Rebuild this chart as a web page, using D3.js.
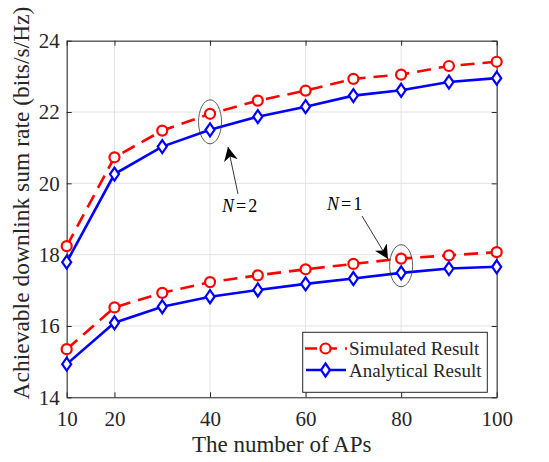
<!DOCTYPE html>
<html><head><meta charset="utf-8">
<script src="https://cdn.jsdelivr.net/npm/d3@7"></script>
<style>body{margin:0;background:#fff;}svg{display:block;}</style>
</head><body>
<svg id="c" width="549" height="462"></svg>
<script>
const aps = [10,20,30,40,50,60,70,80,90,100];
const simN2 = [18.24,20.73,21.48,21.95,22.32,22.6,22.93,23.05,23.29,23.41];
const anaN2 = [17.79,20.26,21.03,21.5,21.87,22.15,22.46,22.61,22.84,22.95];
const simN1 = [15.35,16.52,16.93,17.23,17.42,17.59,17.74,17.89,17.98,18.07];
const anaN1 = [14.93,16.09,16.54,16.82,17.01,17.18,17.33,17.49,17.61,17.66];
const xTicks = [10,20,40,60,80,100];
const yTicks = [14,16,18,20,22,24];
const legendLabels = ["Simulated Result","Analytical Result"];

const svg = d3.select("#c");
const L=66.7,R=496.7,T=40.7,B=397.3;
const x = d3.scaleLinear().domain([10,100]).range([L,R]);
const y = d3.scaleLinear().domain([14,24]).range([B,T]);
const font = "'Liberation Serif','Times New Roman',serif";

// grid
const g = svg.append("g");
g.selectAll(".gx").data(xTicks).enter().append("line")
 .attr("x1",d=>x(d)).attr("x2",d=>x(d)).attr("y1",T).attr("y2",B)
 .attr("stroke","#e3e3e3").attr("stroke-width",1);
g.selectAll(".gy").data(yTicks).enter().append("line")
 .attr("y1",d=>y(d)).attr("y2",d=>y(d)).attr("x1",L).attr("x2",R)
 .attr("stroke","#e3e3e3").attr("stroke-width",1);

// axes (ticks inward)
const ax = d3.axisBottom(x).tickValues(xTicks).tickSizeInner(-5).tickSizeOuter(0).tickPadding(14);
const axT = d3.axisTop(x).tickValues(xTicks).tickSizeInner(-5).tickSizeOuter(0).tickFormat("");
const ay = d3.axisLeft(y).tickValues(yTicks).tickSizeInner(-5).tickSizeOuter(0).tickPadding(7);
const ayR = d3.axisRight(y).tickValues(yTicks).tickSizeInner(-5).tickSizeOuter(0).tickFormat("");
function style(sel){
  sel.selectAll("path").attr("stroke","#262626").attr("stroke-width",1);
  sel.selectAll("line").attr("stroke","#262626");
  sel.selectAll("text").attr("font-family",font).attr("font-size",21).attr("fill","#262626");
}
svg.append("g").attr("transform",`translate(0,${B})`).call(ax).call(style);
svg.append("g").attr("transform",`translate(0,${T})`).call(axT).call(style);
svg.append("g").attr("transform",`translate(${L},0)`).call(ay).call(style);
svg.append("g").attr("transform",`translate(${R},0)`).call(ayR).call(style);

// axis titles
svg.append("text").attr("x",(L+R)/2).attr("y",452).attr("text-anchor","middle")
 .attr("font-family",font).attr("font-size",23).attr("fill","#262626").text("The number of APs");
svg.append("text").attr("transform",`translate(29,${203}) rotate(-90)`).attr("text-anchor","middle")
 .attr("font-family",font).attr("font-size",23.5).attr("fill","#262626").text("Achievable downlink sum rate (bits/s/Hz)");

const line = d3.line().x((d,i)=>x(aps[i])).y(d=>y(d));
const diamond = (cx,cy)=>`M${cx},${cy-6.5}L${cx+4.5},${cy}L${cx},${cy+6.5}L${cx-4.5},${cy}Z`;

function drawSim(vals){
  svg.append("path").datum(vals).attr("d",line).attr("fill","none").attr("stroke","#ff0000")
   .attr("stroke-width",2.6).attr("stroke-dasharray","14,8");
  svg.selectAll(null).data(vals).enter().append("circle")
   .attr("cx",(d,i)=>x(aps[i])).attr("cy",d=>y(d)).attr("r",5)
   .attr("fill","#fff").attr("stroke","#ff0000").attr("stroke-width",2.2);
}
function drawAna(vals){
  svg.append("path").datum(vals).attr("d",line).attr("fill","none").attr("stroke","#0000ff")
   .attr("stroke-width",2.6);
  svg.selectAll(null).data(vals).enter().append("path")
   .attr("d",(d,i)=>diamond(x(aps[i]),y(d)))
   .attr("fill","#fff").attr("stroke","#0000ff").attr("stroke-width",2.2);
}
drawSim(simN2); drawAna(anaN2); drawSim(simN1); drawAna(anaN1);

// annotations
svg.append("defs").append("marker").attr("id","ah").attr("viewBox","0 0 10 10")
 .attr("refX",10).attr("refY",5).attr("markerWidth",14).attr("markerHeight",14)
 .attr("markerUnits","userSpaceOnUse").attr("orient","auto")
 .append("path").attr("d","M0,0L10,5L0,10L3,5Z").attr("fill","#000");
svg.append("ellipse").attr("cx",x(40)).attr("cy",(y(simN2[3])+y(anaN2[3]))/2)
 .attr("rx",11.5).attr("ry",22).attr("fill","none").attr("stroke","#333").attr("stroke-width",0.8);
svg.append("ellipse").attr("cx",x(80)).attr("cy",(y(simN1[7])+y(anaN1[7]))/2)
 .attr("rx",11.5).attr("ry",21).attr("fill","none").attr("stroke","#333").attr("stroke-width",0.8);
svg.append("line").attr("x1",238).attr("y1",194).attr("x2",228).attr("y2",147)
 .attr("stroke","#000").attr("stroke-width",0.8).attr("marker-end","url(#ah)");
svg.append("line").attr("x1",362).attr("y1",216).attr("x2",388).attr("y2",259)
 .attr("stroke","#000").attr("stroke-width",0.8).attr("marker-end","url(#ah)");
function nLabel(xp,yp,n){
  const t=svg.append("text").attr("x",xp).attr("y",yp)
   .attr("font-family",font).attr("font-size",18).attr("fill","#000");
  t.append("tspan").attr("font-style","italic").text("N");
  t.append("tspan").attr("dx",2).text("=");
  t.append("tspan").attr("dx",2).text(n);
}
nLabel(222,212,2); nLabel(327,210,1);

// legend
const lg = svg.append("g");
lg.append("rect").attr("x",302.7).attr("y",332.3).attr("width",184.6).attr("height",60)
 .attr("fill","#fff").attr("stroke","#262626").attr("stroke-width",1);
const ly=[348.5,370];
lg.append("line").attr("x1",305).attr("x2",347).attr("y1",ly[0]).attr("y2",ly[0])
 .attr("stroke","#ff0000").attr("stroke-width",2.6).attr("stroke-dasharray","12,8");
lg.append("circle").attr("cx",325.5).attr("cy",ly[0]).attr("r",5).attr("fill","#fff")
 .attr("stroke","#ff0000").attr("stroke-width",2.2);
lg.append("line").attr("x1",306).attr("x2",346).attr("y1",ly[1]).attr("y2",ly[1])
 .attr("stroke","#0000ff").attr("stroke-width",2.6);
lg.append("path").attr("d",diamond(325.5,ly[1])).attr("fill","#fff")
 .attr("stroke","#0000ff").attr("stroke-width",2.2);
lg.selectAll(null).data(legendLabels).enter().append("text")
 .attr("x",349).attr("y",(d,i)=>ly[i]+6.5).attr("font-family",font).attr("font-size",19)
 .attr("fill","#262626").text(d=>d);
</script>
</body></html>
